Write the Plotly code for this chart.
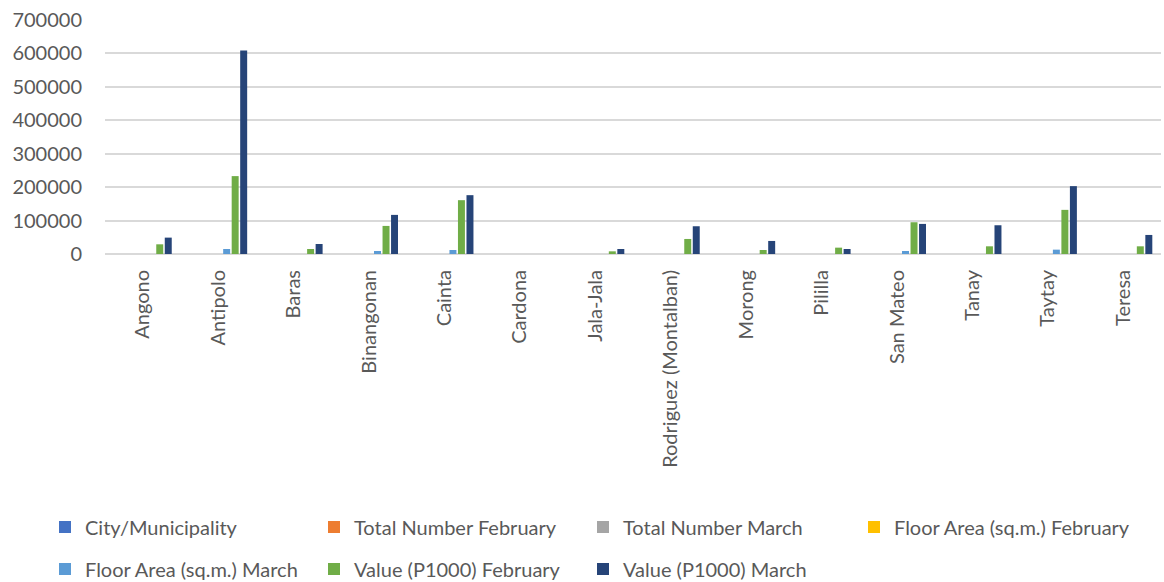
import plotly.graph_objects as go

municipalities = [
    "Angono", "Antipolo", "Baras", "Binangonan", "Cainta", "Cardona",
    "Jala-Jala", "Rodriguez (Montalban)", "Morong", "Pililla",
    "San Mateo", "Tanay", "Taytay", "Teresa",
]

# counts and February floor areas are far below one pixel at this scale
city_municipality = [0] * 14
total_number_feb = [0] * 14
total_number_mar = [0] * 14
floor_area_feb = [0] * 14
floor_area_mar = [0, 15000, 0, 9000, 12000, 0, 0, 0, 0, 0, 9000, 0, 13000, 0]
value_feb = [29000, 233000, 15000, 84000, 161000, 0, 8000, 45000, 12000, 19000, 95000, 23000, 132000, 23000]
value_mar = [49000, 609000, 30000, 117000, 176000, 0, 15000, 83000, 39000, 15000, 90000, 86000, 203000, 57000]

series_names = [
    "City/Municipality", "Total Number February", "Total Number March",
    "Floor Area (sq.m.) February", "Floor Area (sq.m.) March",
    "Value (P1000) February", "Value (P1000) March",
]
series_values = [
    city_municipality, total_number_feb, total_number_mar,
    floor_area_feb, floor_area_mar, value_feb, value_mar,
]
series_colors = ["#4472C4", "#ED7D31", "#A5A5A5", "#FFC000", "#5B9BD5", "#70AD47", "#264478"]

FONT = "Lato"
TEXT = "#595959"
GRID = "#D9D9D9"

# legend grid: 4 entries on the first row, 3 on the second
col_left_px = [45, 314, 583, 854]
row_mid_px = [527, 569]
W, H = 1164, 582

fig = go.Figure()
layout_legends = {}
for i, (name, vals, color) in enumerate(zip(series_names, series_values, series_colors)):
    key = "legend" if i == 0 else f"legend{i + 1}"
    fig.add_trace(go.Bar(
        x=municipalities, y=vals, name=name,
        marker=dict(color=color, line=dict(width=0)),
        legend=key, showlegend=True,
    ))
    row, col = divmod(i, 4)
    layout_legends[key] = dict(
        xref="container", yref="container",
        x=col_left_px[col] / W, y=(H - row_mid_px[row]) / H,
        xanchor="left", yanchor="middle",
        itemwidth=30,
        font=dict(family=FONT, size=20, color=TEXT),
        bgcolor="rgba(0,0,0,0)", borderwidth=0,
    )

fig.update_layout(
    width=W, height=H,
    showlegend=True,
    margin=dict(l=105, r=3, t=20, b=328, autoexpand=False),
    paper_bgcolor="white", plot_bgcolor="white",
    barmode="group", bargap=0.21, bargroupgap=0.18,
    font=dict(family=FONT, size=20, color=TEXT),
    xaxis=dict(
        tickangle=-90, showgrid=False, showline=False, ticks="",
        ticklabelstandoff=11,
        tickfont=dict(family=FONT, size=20, color=TEXT),
    ),
    yaxis=dict(
        range=[0, 700000], dtick=100000, tickformat="d",
        showgrid=True, gridcolor=GRID, gridwidth=1.5,
        zeroline=True, zerolinecolor=GRID, zerolinewidth=1.5,
        showline=False, ticks="", ticklabelstandoff=22,
        tickfont=dict(family=FONT, size=20, color=TEXT),
    ),
    **layout_legends,
)

fig.write_html("out.html")
